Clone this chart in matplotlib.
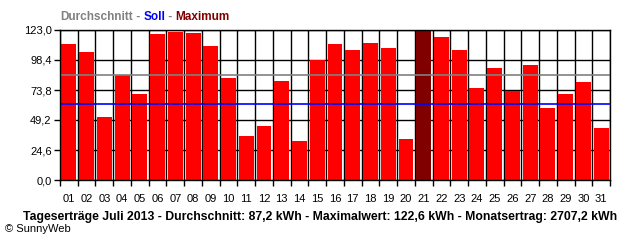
import matplotlib
matplotlib.use("Agg")
from matplotlib import pyplot as plt

days = ["%02d" % d for d in range(1, 32)]
ertrag = [111.8, 105.2, 51.7, 85.8, 70.8, 120.0, 121.6, 120.8, 110.1, 83.9,
          36.3, 44.5, 81.4, 32.2, 98.4, 111.8, 106.9, 112.6, 108.5, 33.6,
          122.6, 117.5, 106.9, 75.7, 92.1, 73.2, 94.6, 59.3, 70.8, 80.6, 42.9]
durchschnitt_linie = 86.0
soll = 62.0
y_ticks = [0.0, 24.6, 49.2, 73.8, 98.4, 123.0]

max_i = ertrag.index(max(ertrag))
colors = ["#800000" if i == max_i else "#ff0000" for i in range(len(ertrag))]

plt.rcParams['font.family'] = ['Liberation Sans', 'DejaVu Sans']

fig = plt.figure(figsize=(6.4, 2.4), dpi=100)
ax = fig.add_axes([60 / 640, 60 / 240, 550 / 640, 150 / 240])

x = list(range(1, len(ertrag) + 1))
ax.bar(x, ertrag, width=0.84, color=colors, zorder=3)
ax.axhline(durchschnitt_linie, color="#808080", lw=1.2, zorder=4)
ax.axhline(soll, color="#0000ff", lw=1.2, zorder=4)

ax.set_xlim(0.5, len(ertrag) + 0.5)
ax.set_ylim(0, 123.0)
ax.set_yticks(y_ticks)
ax.set_yticklabels([("%.1f" % v).replace(".", ",") for v in y_ticks], fontsize=8)
ax.set_xticks(x)
ax.set_xticklabels(days, fontsize=8)
ax.set_xticks([i + 0.5 for i in range(0, len(ertrag) + 1)], minor=True)
ax.tick_params(axis="x", which="major", length=0, pad=10)
ax.tick_params(axis="x", which="minor", length=4, width=1, direction="out")
ax.tick_params(axis="y", length=4, width=1, direction="out", pad=2)
ax.grid(True, which="minor", axis="x", color="black", lw=1, zorder=1)
ax.grid(True, which="major", axis="y", color="black", lw=1, zorder=1)
for s in ax.spines.values():
    s.set_color("black")
    s.set_linewidth(1)
    s.set_zorder(5)

# header legend
t1 = fig.text(60 / 640, 1 - 20 / 240, "Durchschnitt", color="#808080", fontsize=8.5,
              fontweight="bold", va="baseline")
parts = [(" - ", "#808080"), ("Soll", "#0000ff"), (" - ", "#808080"), ("Maximum", "#800000")]
prev = t1
for txt, col in parts:
    prev = ax.annotate(txt, xy=(1, 0), xycoords=prev, color=col, fontsize=8.5,
                       fontweight="bold", va="bottom", ha="left")

fig.text(0.5, 1 - 220 / 240,
         "Tageserträge Juli 2013 - Durchschnitt: 87,2 kWh - Maximalwert: 122,6 kWh - Monatsertrag: 2707,2 kWh",
         fontsize=8.8, fontweight="bold", ha="center", va="baseline")
fig.text(5 / 640, 1 - 232 / 240, "© SunnyWeb", fontsize=8, va="baseline")

fig.savefig("out.png", dpi=100)
